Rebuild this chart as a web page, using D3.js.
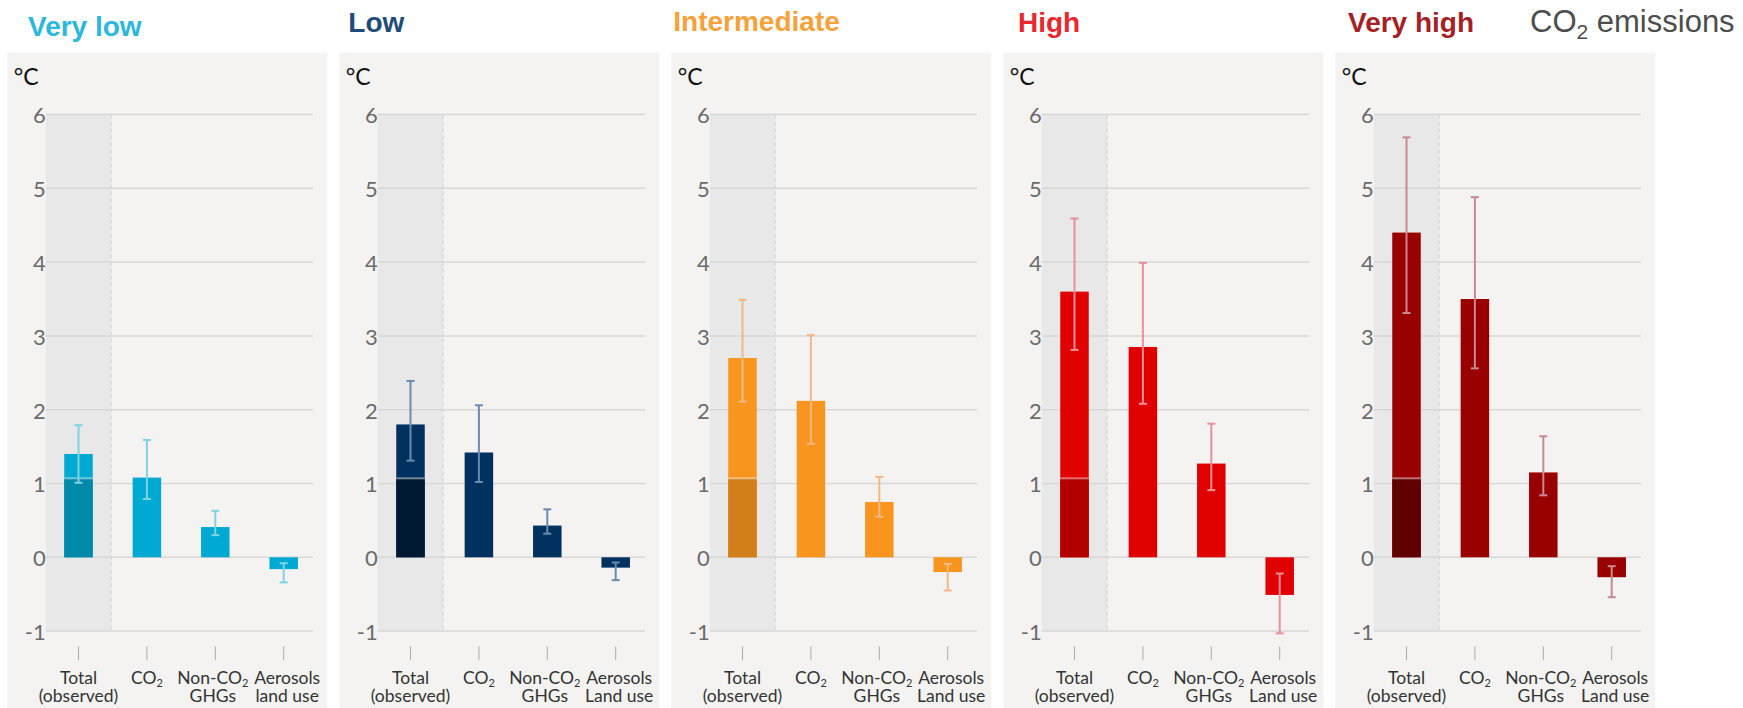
<!DOCTYPE html>
<html>
<head>
<meta charset="utf-8">
<script src="https://cdn.jsdelivr.net/npm/d3@7"></script>
<style>
  html, body { margin: 0; padding: 0; background: #ffffff; }
  svg { display: block; }
</style>
</head>
<body>
<svg id="chart" width="1743" height="708"></svg>
<script>
// Warming contributions by emissions scenario (°C, best estimate and likely range)
const scenarios = ["Very low", "Low", "Intermediate", "High", "Very high"];
const categories = ["total", "co2", "nonco2", "aerosols"];
const tickValues = [-1, 0, 1, 2, 3, 4, 5, 6];
const observedWarming = 1.07;

const veryLowBest = [1.40, 1.08, 0.41, -0.16];
const veryLowRange = [[1.01, 1.79], [0.79, 1.59], [0.30, 0.63], [-0.34, -0.08]];
const lowBest = [1.80, 1.42, 0.43, -0.14];
const lowRange = [[1.31, 2.39], [1.02, 2.06], [0.32, 0.65], [-0.31, -0.07]];
const intermediateBest = [2.70, 2.12, 0.75, -0.20];
const intermediateRange = [[2.11, 3.49], [1.54, 3.01], [0.55, 1.09], [-0.45, -0.09]];
const highBest = [3.60, 2.85, 1.27, -0.51];
const highRange = [[2.81, 4.59], [2.08, 3.99], [0.91, 1.81], [-1.03, -0.22]];
const veryHighBest = [4.40, 3.50, 1.15, -0.27];
const veryHighRange = [[3.31, 5.69], [2.56, 4.88], [0.84, 1.64], [-0.54, -0.12]];

const bestByScenario = [veryLowBest, lowBest, intermediateBest, highBest, veryHighBest];
const rangeByScenario = [veryLowRange, lowRange, intermediateRange, highRange, veryHighRange];

// Category labels: each line is a list of [text, isSubscript] pieces
const categoryLines = [
  [[["Total", false]], [["(observed)", false]]],
  [[["CO", false], ["2", true]]],
  [[["Non-CO", false], ["2", true]], [["GHGs", false]]],
  [[["Aerosols", false]], [["land use", false]]]
];
const categoryLinesUpper = [
  categoryLines[0], categoryLines[1], categoryLines[2],
  [[["Aerosols", false]], [["Land use", false]]]
];

// Palette per scenario
const titleColors = ["#2db7dc", "#1f4b7a", "#f7a13a", "#e8282d", "#a51f25"];
const barColors = ["#00a9d1", "#00315f", "#f7951f", "#e10000", "#990000"];
const baseColors = ["#0089a8", "#001a33", "#d27e1b", "#b20000", "#600000"];
const errColors = ["#7fd3e3", "#6a8bad", "#f2b888", "#e8909b", "#c78a92"];

// Layout
const W = 1743, H = 708;
const panelLeft0 = 7.3, panelStep = 332, panelW = 320, panelTop = 52.7;
const plotX0 = 38.5, plotX1 = 305.7;
const titleDx = [20.7, 9, 2, 14.7, 12.7];
const titleY = [36, 31.7, 30.7, 31.7, 31.7];
const labelDx = [0, 0, -2.5, 3.5];

const svg = d3.select("#chart");

const panelX = d3.scaleBand()
  .domain(scenarios)
  .range([panelLeft0, panelLeft0 + panelStep * scenarios.length])
  .padding(0);

const y = d3.scaleLinear().domain([-1, 6]).range([631.1, 114.5]);

const x = d3.scaleBand()
  .domain(categories)
  .range([37, 37 + 68.4 * categories.length])
  .padding(0);
const barW = 28.5;
const capW = 8;

scenarios.forEach((name, si) => {
  const g = svg.append("g").attr("transform", `translate(${panelX(name)},0)`);

  // title
  svg.append("text")
    .attr("x", panelX(name) + titleDx[si])
    .attr("y", titleY[si])
    .attr("font-family", "'Liberation Sans', Arial, sans-serif")
    .attr("font-weight", "bold")
    .attr("font-size", 28)
    .attr("fill", titleColors[si])
    .text(name);

  // panel background
  g.append("rect")
    .attr("x", 0).attr("y", panelTop)
    .attr("width", panelW).attr("height", H - panelTop)
    .attr("fill", "#f4f3f2");

  // shaded "observed" column
  const c0 = x(categories[0]) + x.bandwidth() / 2;
  const shadeW = 2 * (c0 - plotX0);
  g.append("rect")
    .attr("x", plotX0).attr("y", y(6))
    .attr("width", shadeW).attr("height", y(-1) - y(6))
    .attr("fill", "#e8e8e8");

  // gridlines
  g.selectAll("line.grid")
    .data(tickValues)
    .join("line")
    .attr("class", "grid")
    .attr("x1", plotX0).attr("x2", plotX1)
    .attr("y1", d => y(d)).attr("y2", d => y(d))
    .attr("stroke", "#d9d8d8")
    .attr("stroke-width", 1.5);

  // dashed separator
  g.append("line")
    .attr("x1", plotX0 + shadeW).attr("x2", plotX0 + shadeW)
    .attr("y1", y(6)).attr("y2", y(-1))
    .attr("stroke", "#d2d2d2")
    .attr("stroke-width", 1)
    .attr("stroke-dasharray", "4,3");

  // y axis labels
  const yAxis = d3.axisLeft(y).tickValues(tickValues).tickSize(0).tickPadding(0)
    .tickFormat(d => d < 0 ? "-" + Math.abs(d) : String(d));
  const ax = g.append("g").attr("transform", `translate(31,0)`).call(yAxis);
  ax.select(".domain").remove();
  ax.selectAll("text")
    .attr("font-family", "Lato, sans-serif")
    .attr("font-size", 22)
    .attr("fill", "#6b6b6b")
    .attr("dy", "0.38em")
    .attr("x", 7.5);

  // unit label
  g.append("text")
    .attr("x", 6.5).attr("y", 85)
    .attr("font-family", "Lato, sans-serif")
    .attr("font-size", 23)
    .attr("fill", "#111")
    .text("°C");

  const best = bestByScenario[si];
  const range = rangeByScenario[si];
  const rows = categories.map((c, i) => ({ c, v: best[i], lo: range[i][0], hi: range[i][1] }));
  const cx = d => x(d.c) + x.bandwidth() / 2;

  // bars
  g.selectAll("rect.bar")
    .data(rows)
    .join("rect")
    .attr("class", "bar")
    .attr("x", d => cx(d) - barW / 2)
    .attr("width", barW)
    .attr("y", d => y(Math.max(0, d.v)))
    .attr("height", d => Math.abs(y(d.v) - y(0)))
    .attr("fill", barColors[si]);

  // observed part of the total bar
  g.append("rect")
    .attr("x", cx(rows[0]) - barW / 2)
    .attr("width", barW)
    .attr("y", y(observedWarming))
    .attr("height", y(0) - y(observedWarming))
    .attr("fill", baseColors[si]);
  g.append("line")
    .attr("x1", cx(rows[0]) - barW / 2).attr("x2", cx(rows[0]) + barW / 2)
    .attr("y1", y(observedWarming)).attr("y2", y(observedWarming))
    .attr("stroke", "#ffffff").attr("stroke-opacity", 0.45)
    .attr("stroke-width", 2);

  // error bars
  const eb = g.selectAll("g.err").data(rows).join("g").attr("class", "err")
    .attr("stroke", errColors[si]).attr("stroke-width", 2);
  eb.append("line")
    .attr("x1", cx).attr("x2", cx)
    .attr("y1", d => y(d.lo)).attr("y2", d => y(d.hi));
  eb.append("line")
    .attr("x1", d => cx(d) - capW / 2).attr("x2", d => cx(d) + capW / 2)
    .attr("y1", d => y(d.hi)).attr("y2", d => y(d.hi));
  eb.append("line")
    .attr("x1", d => cx(d) - capW / 2).attr("x2", d => cx(d) + capW / 2)
    .attr("y1", d => y(d.lo)).attr("y2", d => y(d.lo));

  // category ticks
  g.selectAll("line.ctick")
    .data(categories)
    .join("line")
    .attr("class", "ctick")
    .attr("x1", d => x(d) + x.bandwidth() / 2).attr("x2", d => x(d) + x.bandwidth() / 2)
    .attr("y1", 646.5).attr("y2", 660)
    .attr("stroke", "#aaaaaa").attr("stroke-width", 1);

  // category labels
  const labels = si === 0 ? categoryLines : categoryLinesUpper;
  categories.forEach((c, ci) => {
    const lines = labels[ci];
    lines.forEach((pieces, li) => {
      const t = g.append("text")
        .attr("x", x(c) + x.bandwidth() / 2 + labelDx[ci])
        .attr("y", 683.5 + li * 18.4)
        .attr("text-anchor", "middle")
        .attr("font-family", "Lato, sans-serif")
        .attr("font-size", 17.5)
        .attr("fill", "#333333");
      pieces.forEach(([txt, sub]) => {
        if (sub) {
          t.append("tspan").attr("font-size", 11).attr("dy", 3).text(txt);
        } else {
          t.append("tspan").text(txt);
        }
      });
    });
  });
});

// header note
const note = svg.append("text")
  .attr("x", 1530).attr("y", 32)
  .attr("font-family", "'Liberation Sans', Arial, sans-serif")
  .attr("font-size", 31)
  .attr("fill", "#4d4d4d");
note.append("tspan").text("CO");
note.append("tspan").attr("font-size", 21).attr("dy", 7).text("2");
note.append("tspan").attr("dy", -7).text(" emissions");
</script>
</body>
</html>
